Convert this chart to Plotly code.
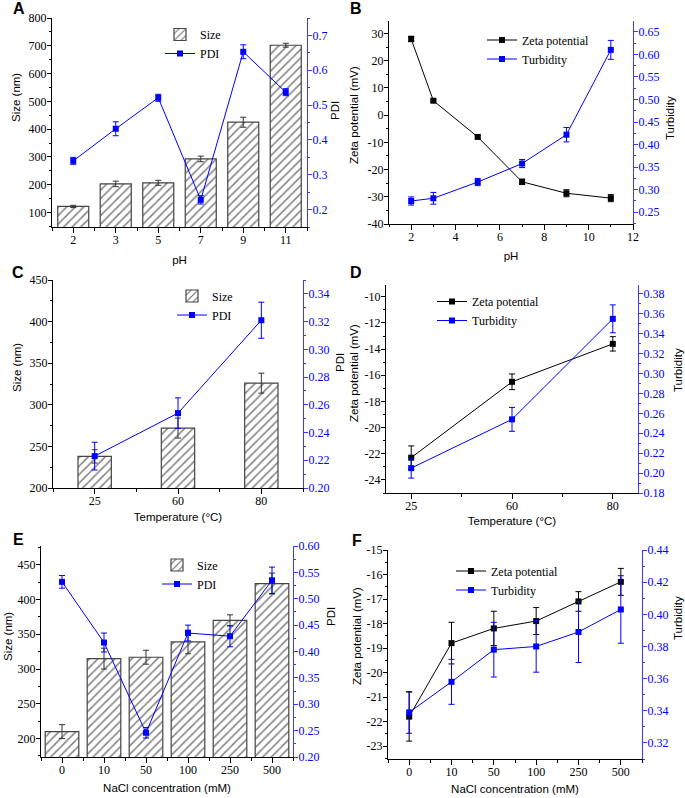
import plotly.graph_objects as go

# ---------------- data ----------------
# Panel A (pH)
ph_cats = ["2", "3", "5", "7", "9", "11"]
a_size = [122, 203, 207, 293, 425, 702]
a_size_err = [4, 10, 9, 10, 18, 7]
a_pdi = [0.340, 0.432, 0.521, 0.228, 0.653, 0.537]
a_pdi_err = [0.010, 0.020, 0.010, 0.012, 0.020, 0.010]

# Panel B (pH, numeric)
b_ph = [2, 3, 5, 7, 9, 11]
b_zeta = [28.0, 5.3, -8.0, -24.5, -28.7, -30.5]
b_zeta_err = [1.0, 0.5, 0.5, 1.0, 1.3, 1.3]
b_turb = [0.275, 0.281, 0.317, 0.358, 0.422, 0.610]
b_turb_err = [0.009, 0.013, 0.008, 0.009, 0.016, 0.021]

# Panel C (temperature)
temp_cats = ["25", "60", "80"]
c_size = [238, 272, 326]
c_size_err = [8, 12, 12]
c_pdi = [0.223, 0.254, 0.321]
c_pdi_err = [0.010, 0.011, 0.013]

# Panel D (temperature)
d_zeta = [-22.3, -16.5, -13.6]
d_zeta_err = [0.9, 0.6, 0.55]
d_turb = [0.205, 0.254, 0.355]
d_turb_err = [0.010, 0.012, 0.014]

# Panel E (NaCl)
nacl_cats = ["0", "10", "50", "100", "250", "500"]
e_size = [210, 315, 317, 339, 370, 423]
e_size_err = [10, 15, 10, 17, 8, 15]
e_pdi = [0.532, 0.417, 0.246, 0.435, 0.429, 0.535]
e_pdi_err = [0.012, 0.018, 0.010, 0.015, 0.020, 0.025]

# Panel F (NaCl)
f_zeta = [-21.8, -18.8, -18.2, -17.9, -17.1, -16.3]
f_zeta_err = [1.0, 0.85, 0.7, 0.55, 0.4, 0.55]
f_turb = [0.339, 0.358, 0.378, 0.380, 0.389, 0.403]
f_turb_err = [0.013, 0.014, 0.017, 0.016, 0.019, 0.021]

# tick labels
b_left_ticks = [-40, -30, -20, -10, 0, 10, 20, 30]
d_left_ticks = [-24, -22, -20, -18, -16, -14, -12, -10]
f_left_ticks = [-23, -22, -21, -20, -19, -18, -17, -16, -15]

# ---------------- style ----------------
W, H = 685, 798
SERIF = "'Liberation Serif', 'Times New Roman', Times, serif"
SANS = "'Liberation Sans', Arial, sans-serif"
BLUE = "#0000ff"
AXBLUE = "#3a3aff"


def xd(a, b):
    return [a / W, b / W]


def yd(top, bottom):
    return [1 - bottom / H, 1 - top / H]


fig = go.Figure()
layout = dict(
    width=W, height=H, margin=dict(l=0, r=0, t=0, b=0),
    plot_bgcolor="white", paper_bgcolor="white", showlegend=True,
    annotations=[],
)

panels = [
    dict(dom_x=(52, 307), dom_y=(18, 227)),
    dict(dom_x=(389, 633), dom_y=(21, 224)),
    dict(dom_x=(53, 303), dom_y=(280, 488)),
    dict(dom_x=(386, 638), dom_y=(285, 493)),
    dict(dom_x=(41, 293), dom_y=(546, 757)),
    dict(dom_x=(388, 642), dom_y=(550, 759)),
]


def axnames(i):
    xi = "" if i == 1 else str(i)
    yl = "" if i == 1 else str(2 * i - 1)
    yr = str(2 * i)
    return xi, yl, yr


def base_tick_font(color="black"):
    return dict(family=SERIF, size=12, color=color)


def title_font():
    return dict(family=SANS, size=11.5, color="black")


def add_ytitle(text, px, py):
    layout["annotations"].append(dict(
        text=text, x=px / W, y=1 - py / H, xref="paper", yref="paper",
        showarrow=False, xanchor="center", yanchor="middle", textangle=-90,
        font=title_font()))


def setup_axes(i, xcfg, ylcfg, yrcfg, xtitle, xstand, yltitle, ylpos, yrtitle, yrpos):
    xi, yl, yr = axnames(i)
    p = panels[i - 1]
    xax = dict(
        domain=xd(*p["dom_x"]), anchor="y" + yl, showline=True, linecolor="black",
        linewidth=1, ticks="outside", ticklen=5, tickcolor="black", showgrid=False,
        zeroline=False, tickfont=base_tick_font(), automargin=False,
        ticklabelstandoff=-3,
        title=dict(text=xtitle, font=title_font(), standoff=xstand),
    )
    xax.update(xcfg)
    ylax = dict(
        domain=yd(*p["dom_y"]), anchor="x" + xi, showline=True, linecolor="black",
        linewidth=1, ticks="outside", ticklen=4, tickcolor="black", showgrid=False,
        zeroline=False, tickfont=base_tick_font(), automargin=False,
        ticklabelstandoff=-2,
    )
    ylax.update(ylcfg)
    yrax = dict(
        overlaying="y" + yl, anchor="x" + xi, side="right", showline=True,
        linecolor=AXBLUE, linewidth=1, ticks="outside", ticklen=4, tickcolor=AXBLUE,
        showgrid=False, zeroline=False, tickfont=base_tick_font(BLUE),
        automargin=False, ticklabelstandoff=-2,
    )
    yrax.update(yrcfg)
    layout["xaxis" + xi] = xax
    layout["yaxis" + yl] = ylax
    layout["yaxis" + yr] = yrax
    add_ytitle(yltitle, *ylpos)
    add_ytitle(yrtitle, *yrpos)


def cat_x(cats, rng):
    return dict(range=rng, tickmode="array", tickvals=list(range(len(cats))),
                ticktext=cats,
                minor=dict(ticks="outside", ticklen=3, tickcolor="black",
                           tickmode="array",
                           tickvals=[k + 0.5 for k in range(-1, len(cats))]))


def lin(rng, dtick, minor, fmt=None, color="black", tick0=0):
    d = dict(range=rng, dtick=dtick, tick0=tick0,
             minor=dict(ticks="outside", ticklen=2, dtick=minor, tick0=tick0, tickcolor=color))
    if fmt:
        d["tickformat"] = fmt
    return d


def neg_ticks(rng, vals, minor):
    return dict(range=rng, tickmode="array", tickvals=vals, ticktext=[str(v) for v in vals],
                minor=dict(ticks="outside", ticklen=2, dtick=minor, tick0=0, tickcolor="black"))


def bar_trace(i, xs, ys, err, width, legend):
    xi, yl, yr = axnames(i)
    return go.Bar(
        x=xs, y=ys, width=width, name="Size", xaxis="x" + xi, yaxis="y" + yl,
        legend=legend,
        marker=dict(color="white", line=dict(color="#444444", width=1.2),
                    pattern=dict(shape="/", fgcolor="#000000", bgcolor="white",
                                 size=6, solidity=0.25)),
        error_y=dict(type="data", array=err, color="#333333", thickness=1, width=3),
    )


def line_trace(i, xs, ys, err, name, color, side, legend):
    xi, yl, yr = axnames(i)
    return go.Scatter(
        x=xs, y=ys, name=name, mode="lines+markers", xaxis="x" + xi,
        yaxis="y" + (yr if side == "r" else yl), legend=legend,
        line=dict(color=color, width=1),
        marker=dict(symbol="square", size=6, color=color),
        error_y=dict(type="data", array=err, color=color, thickness=1, width=3),
    )


# ---------- Panel A ----------
idx_ph = list(range(len(ph_cats)))
fig.add_trace(bar_trace(1, idx_ph, a_size, a_size_err, 0.73, "legend"))
fig.add_trace(line_trace(1, idx_ph, a_pdi, a_pdi_err, "PDI", BLUE, "r", "legend"))
setup_axes(1, cat_x(ph_cats, [-0.5, 5.5]), lin([48, 800], 100, 50),
           lin([0.15, 0.75], 0.1, 0.05, color=AXBLUE),
           "pH", 9, "Size (nm)", (16, 97), "PDI", (335, 111))

# ---------- Panel B ----------
fig.add_trace(line_trace(2, b_ph, b_zeta, b_zeta_err, "Zeta potential", "black", "l", "legend2"))
fig.add_trace(line_trace(2, b_ph, b_turb, b_turb_err, "Turbidity", BLUE, "r", "legend2"))
setup_axes(2, lin([1, 12], 2, 1), neg_ticks([-40, 34.6], b_left_ticks, 5),
           lin([0.224, 0.674], 0.05, 0.025, fmt=".2f", color=AXBLUE),
           "pH", 8, "Zeta potential (mV)", (354, 115), "Turbidity", (670, 118))

# ---------- Panel C ----------
idx_t = list(range(len(temp_cats)))
fig.add_trace(bar_trace(3, idx_t, c_size, c_size_err, 0.4, "legend3"))
fig.add_trace(line_trace(3, idx_t, c_pdi, c_pdi_err, "PDI", BLUE, "r", "legend3"))
setup_axes(3, cat_x(temp_cats, [-0.5, 2.5]), lin([200, 450], 50, 25),
           lin([0.20, 0.35], 0.02, 0.01, fmt=".2f", color=AXBLUE),
           "Temperature (\u00b0C)", 5, "Size (nm)", (17, 368), "PDI", (340, 363))

# ---------- Panel D ----------
fig.add_trace(line_trace(4, idx_t, d_zeta, d_zeta_err, "Zeta potential", "black", "l", "legend4"))
fig.add_trace(line_trace(4, idx_t, d_turb, d_turb_err, "Turbidity", BLUE, "r", "legend4"))
setup_axes(4, cat_x(temp_cats, [-0.25, 2.25]), neg_ticks([-25, -9.1], d_left_ticks, 1),
           lin([0.18, 0.389], 0.02, 0.01, fmt=".2f", color=AXBLUE),
           "Temperature (\u00b0C)", 4, "Zeta potential (mV)", (354, 373), "Turbidity", (678, 370))

# ---------- Panel E ----------
idx_n = list(range(len(nacl_cats)))
fig.add_trace(bar_trace(5, idx_n, e_size, e_size_err, 0.8, "legend5"))
fig.add_trace(line_trace(5, idx_n, e_pdi, e_pdi_err, "PDI", BLUE, "r", "legend5"))
setup_axes(5, cat_x(nacl_cats, [-0.5, 5.5]), lin([173.5, 477], 50, 25),
           lin([0.20, 0.60], 0.05, 0.025, fmt=".2f", color=AXBLUE),
           "NaCl concentration (mM)", 7, "Size (nm)", (8, 637), "PDI", (331, 617))

# ---------- Panel F ----------
fig.add_trace(line_trace(6, idx_n, f_zeta, f_zeta_err, "Zeta potential", "black", "l", "legend6"))
fig.add_trace(line_trace(6, idx_n, f_turb, f_turb_err, "Turbidity", BLUE, "r", "legend6"))
setup_axes(6, cat_x(nacl_cats, [-0.5, 5.5]), neg_ticks([-23.53, -15], f_left_ticks, 0.5),
           lin([0.31, 0.44], 0.02, 0.01, fmt=".2f", color=AXBLUE),
           "NaCl concentration (mM)", 6, "Zeta potential (mV)", (357, 636), "Turbidity", (678, 618))

# ---------- legends ----------
leg_pos = {
    "legend": (160, 20),
    "legend2": (482, 25.5),
    "legend3": (172, 281.5),
    "legend4": (432, 287),
    "legend5": (157, 550.5),
    "legend6": (451, 556.5),
}
for key, (lx, ly) in leg_pos.items():
    layout[key] = dict(x=lx / W, y=1 - ly / H, xanchor="left", yanchor="top",
                       bgcolor="rgba(0,0,0,0)", borderwidth=0,
                       font=dict(family=SERIF, size=12, color="black"),
                       tracegroupgap=0, itemwidth=30)

# ---------- panel letters ----------
letters = [("A", 19, 8), ("B", 356, 8), ("C", 18, 272), ("D", 356, 273), ("E", 18, 539), ("F", 357, 540)]
for t, px, py in letters:
    layout["annotations"].append(dict(
        text="<b>%s</b>" % t, x=px / W, y=1 - py / H, xref="paper", yref="paper",
        showarrow=False, xanchor="center", yanchor="middle",
        font=dict(family=SANS, size=16, color="black")))

fig.update_layout(**layout)
fig.write_html("out.html", config={"displayModeBar": False},
               post_script="document.body.style.margin='0';document.body.style.overflow='hidden';")
